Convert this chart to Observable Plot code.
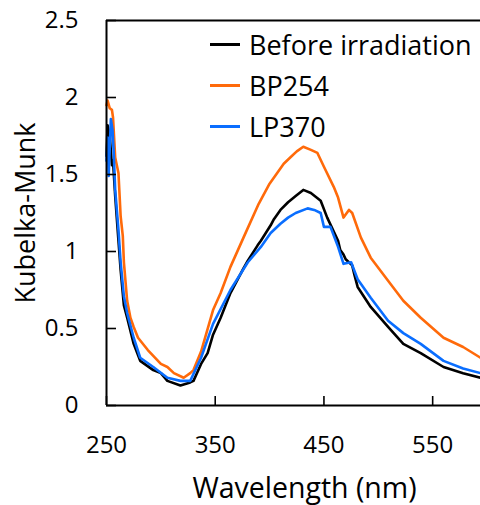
<!DOCTYPE html>
<html><head><meta charset="utf-8">
<script src="https://cdn.jsdelivr.net/npm/d3@7"></script>
<script src="https://cdn.jsdelivr.net/npm/@observablehq/plot@0.6"></script>
<style>
html,body{margin:0;padding:0;background:#fff;}
#wrap{position:relative;width:480px;height:505px;overflow:hidden;font-family:"Open Sans",sans-serif;}
#legend{position:absolute;left:210px;top:24px;}
.row{display:flex;align-items:center;height:41px;}
.sw{width:30px;height:3px;margin-right:9px;}
.lab{font-size:27px;color:#000;line-height:41px;white-space:nowrap;}
</style></head>
<body><div id="wrap"></div>
<script>
const seriesNames = ["Before irradiation", "BP254", "LP370"];
const seriesColors = ["#000000", "#ff6a0a", "#0a6eff"];
const xTicks = [250, 350, 450, 550];
const yTicks = [0, 0.5, 1, 1.5, 2, 2.5];
const yTickLabels = ["0", "0.5", "1", "1.5", "2", "2.5"];
const xDomain = [250, 594];
const yDomain = [0, 2.5];
const xLabel = "Wavelength (nm)";
const yLabel = "Kubelka-Munk";

const beforeWl = [250,251,253,255,256,258,261,263,266,269,275,281,293,300,306,318,327,330,337,343,348,355,364,376,380,389,392,401,404,410,417,424,431,438,447,453,463,465,468,470,476,478,481,493,509,523,539,560,578,594];
const beforeKM = [1.62,1.82,1.75,1.56,1.59,1.36,1.07,0.88,0.65,0.57,0.40,0.29,0.23,0.21,0.16,0.13,0.15,0.16,0.27,0.34,0.46,0.57,0.73,0.89,0.94,1.04,1.07,1.17,1.21,1.27,1.32,1.36,1.40,1.38,1.33,1.22,1.07,1.01,0.98,0.95,0.91,0.85,0.77,0.64,0.51,0.40,0.34,0.25,0.21,0.18];

const bp254Wl = [250,251,253,255,256,258,261,263,265,266,269,272,275,279,288,300,306,312,321,327,330,337,348,355,364,376,390,400,407,413,419,425,431,438,444,450,459,463,468,473,476,484,493,509,523,539,560,578,594];
const bp254KM = [1.95,1.98,1.93,1.92,1.87,1.61,1.51,1.23,1.10,0.93,0.68,0.57,0.51,0.44,0.36,0.27,0.25,0.21,0.18,0.21,0.23,0.35,0.62,0.73,0.90,1.09,1.31,1.44,1.51,1.57,1.61,1.65,1.68,1.66,1.64,1.55,1.42,1.35,1.22,1.27,1.25,1.09,0.96,0.81,0.68,0.57,0.44,0.38,0.31];

const lp370Wl = [250,251,252,254,255.5,256.5,258,261,263,266,269,275,281,293,306,318,327,337,348,364,380,392,401,410,417,424,435,441,447,450,456,463,468,475,481,493,509,523,539,560,578,594];
const lp370KM = [1.59,1.74,1.49,1.86,1.79,1.66,1.40,1.14,0.93,0.71,0.60,0.44,0.31,0.25,0.18,0.16,0.16,0.31,0.53,0.75,0.93,1.03,1.12,1.18,1.22,1.25,1.28,1.27,1.25,1.16,1.16,1.03,0.92,0.93,0.82,0.70,0.55,0.47,0.40,0.29,0.24,0.21];

const seriesWl = [beforeWl, bp254Wl, lp370Wl];
const seriesKM = [beforeKM, bp254KM, lp370KM];
const rows = [];
seriesNames.forEach((name, i) => {
  seriesWl[i].forEach((w, j) => rows.push({series: name, wl: w, km: seriesKM[i][j]}));
});

const plot = Plot.plot({
  width: 480,
  height: 505,
  marginLeft: 106,
  marginRight: 0,
  marginTop: 20,
  marginBottom: 100,
  style: {fontFamily: "'Open Sans', sans-serif", fontSize: "24px", color: "#000", background: "#fff", overflow: "hidden"},
  x: {domain: xDomain},
  y: {domain: yDomain},
  color: {domain: seriesNames, range: seriesColors},
  marks: [
    Plot.line(rows, {x: "wl", y: "km", z: "series", stroke: "series", strokeWidth: 2.6, strokeLinejoin: "round"}),
    Plot.axisX({ticks: xTicks, tickSize: -9, tickPadding: 39, strokeWidth: 1.6, label: null, fontSize: 24}),
    Plot.axisY({ticks: yTicks, tickSize: -10, tickPadding: 38, strokeWidth: 1.6, label: null, fontSize: 24,
      tickFormat: d => yTickLabels[yTicks.indexOf(d)]}),
    Plot.ruleX([xDomain[0]], {strokeWidth: 2}),
    Plot.ruleY([yDomain[0]], {strokeWidth: 2}),
    Plot.ruleY([yDomain[1]], {strokeWidth: 2}),
    Plot.text([xLabel], {frameAnchor: "bottom", dx: 11, dy: 92, lineAnchor: "bottom", textAnchor: "middle", fontSize: 28.5}),
    Plot.text([yLabel], {frameAnchor: "left", dx: -80, rotate: -90, lineAnchor: "middle", textAnchor: "middle", fontSize: 27})
  ]
});
const wrap = document.getElementById("wrap");
wrap.appendChild(plot);
const legend = document.createElement("div");
legend.id = "legend";
seriesNames.forEach((name, i) => {
  const row = document.createElement("div");
  row.className = "row";
  const sw = document.createElement("div");
  sw.className = "sw";
  sw.style.background = seriesColors[i];
  const lab = document.createElement("span");
  lab.className = "lab";
  lab.textContent = name;
  row.appendChild(sw);
  row.appendChild(lab);
  legend.appendChild(row);
});
wrap.appendChild(legend);
</script>
</body></html>
